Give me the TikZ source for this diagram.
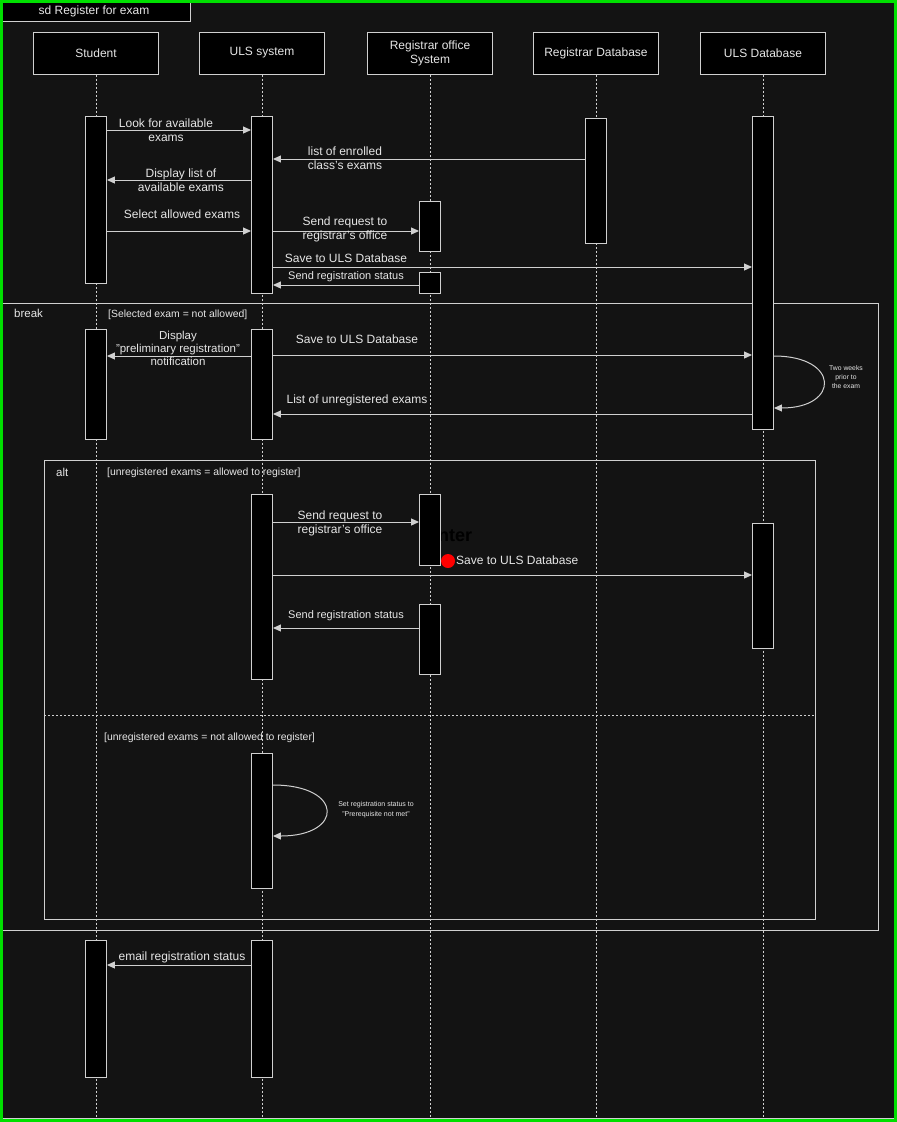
\documentclass[tikz,border=0pt]{standalone}
\usepackage{fontspec}
\setmainfont{Liberation Sans}
\usetikzlibrary{arrows.meta}
\definecolor{bg}{HTML}{131313}
\definecolor{ln}{HTML}{D0D0D0}
\definecolor{tx}{HTML}{E6E6E6}
\definecolor{edge}{HTML}{00E000}
\begin{document}
\begin{tikzpicture}[x=1pt,y=-1pt,
  head/.style={draw=ln, line width=1pt, fill=black, text=tx, minimum width=125, minimum height=42,
    font=\fontsize{12}{14}\selectfont, align=center, inner sep=0},
  life/.style={draw=ln, line width=0.9pt, dash pattern=on 2pt off 2pt},
  act/.style={draw=ln, line width=0.9pt, fill=black, minimum width=21, inner sep=0, anchor=north},
  msg/.style={draw=ln, line width=1pt, -{Triangle[length=8pt,width=7pt]}},
  lbl/.style={text=tx, font=\fontsize{12}{14}\selectfont, align=center, inner sep=0},
  guard/.style={text=tx, font=\fontsize{10.4}{12}\selectfont, inner sep=0, anchor=west},
  tiny/.style={text=tx, font=\fontsize{6.8}{8.8}\selectfont, align=center, inner sep=0},
  frame/.style={draw=ln, line width=1pt}]
\fill[bg] (0,0) rectangle (897,1122);
\useasboundingbox (0,0) rectangle (897,1122);

% outer frame and its title tab
\draw[frame] (2,1118) -- (895,1118);
\draw[frame, fill=black] (-2,-2) rectangle (190,21);
\node[text=tx, font=\fontsize{12}{14}\selectfont, inner sep=0] (title) at (94,11) {sd Register for exam};

% participants
\node[head] (hS) at (96,53) {Student};
\node[head] (hU) at (262,53) {ULS system};
\node[head] (hR) at (430,53) {Registrar office\\System};
\node[head] (hD) at (596,53) {Registrar Database};
\node[head] (hL) at (763,53) {ULS Database};

% lifelines
\foreach \h in {hS,hU,hR,hD,hL}
  \draw[life] (\h.south) -- (\h.south |- 0,1118);

% combined fragments
\draw[frame] (-2,303) rectangle (878,930);
\node[text=tx, font=\fontsize{11.5}{13}\selectfont, inner sep=0, anchor=west] (brk) at (14,313) {break};
\node[guard] (g1) at (108,315) {[Selected exam = not allowed]};
\draw[frame] (44,460) rectangle (815,919);
\node[text=tx, font=\fontsize{11.5}{13}\selectfont, inner sep=0, anchor=west] (alt) at (56,472) {alt};
\node[guard] (g2) at (107,473) {[unregistered exams = allowed to register]};
\draw[ln, line width=1pt, dash pattern=on 2pt off 2pt] (44,715.5) -- (815,715.5);
\node[guard] (g3) at (104,738) {[unregistered exams = not allowed to register]};

% activation bars
\node[act, minimum height=167] (s1) at (96,116) {};
\node[act, minimum height=177] (u1) at (262,116) {};
\node[act, minimum height=125] (d1) at (596,118) {};
\node[act, minimum height=313] (l1) at (763,116) {};
\node[act, minimum height=50]  (r1) at (430,201) {};
\node[act, minimum height=21]  (r2) at (430,272) {};
\node[act, minimum height=110] (s2) at (96,329) {};
\node[act, minimum height=110] (u2) at (262,329) {};
\node[act, minimum height=185] (u3) at (262,494) {};
\node[text=black, font=\bfseries\fontsize{18}{20}\selectfont, inner sep=0, anchor=west] (ent) at (428,536) {enter};
\node[act, minimum height=71]  (r3) at (430,494) {};
\node[act, minimum height=70]  (r4) at (430,604) {};
\node[act, minimum height=125] (l2) at (763,523) {};
\node[act, minimum height=135] (u4) at (262,753) {};
\node[act, minimum height=137] (s3) at (96,940) {};
\node[act, minimum height=137] (u5) at (262,940) {};

% main flow
\draw[msg] (s1.east |- 0,130) -- (u1.west |- 0,130);
\node[lbl] (m1) at (166,130) {Look for available\\exams};
\draw[msg] (d1.west |- 0,159) -- (u1.east |- 0,159);
\node[lbl] (m2) at (345,158) {list of enrolled\\class's exams};
\draw[msg] (u1.west |- 0,180) -- (s1.east |- 0,180);
\node[lbl] (m3) at (181,180) {Display list of\\available exams};
\draw[msg] (s1.east |- 0,231) -- (u1.west |- 0,231);
\node[lbl] (m4) at (182,214) {Select allowed exams};
\draw[msg] (u1.east |- 0,231) -- (r1.west |- 0,231);
\node[lbl] (m5) at (345,229) {Send request to\\registrar's office};
\draw[msg] (u1.east |- 0,267) -- (l1.west |- 0,267);
\node[lbl] (m6) at (346,258) {Save to ULS Database};
\draw[msg] (r2.west |- 0,285) -- (u1.east |- 0,285);
\node[lbl, font=\fontsize{11}{13}\selectfont] (m7) at (346,277) {Send registration status};

% break fragment
\draw[msg] (u2.west |- 0,356) -- (s2.east |- 0,356);
\node[lbl, font=\fontsize{11.5}{13}\selectfont] (m8) at (178,348) {Display\\"preliminary registration"\\notification};
\draw[msg] (u2.east |- 0,355) -- (l1.west |- 0,355);
\node[lbl] (m9) at (357,339) {Save to ULS Database};
\draw[msg] (l1.east |- 0,356) .. controls (840,356) and (840,408) .. (l1.east |- 0,408);
\node[tiny] (m10) at (846,377) {Two weeks\\prior to\\the exam};
\draw[msg] (l1.west |- 0,414) -- (u2.east |- 0,414);
\node[lbl] (m11) at (357,400) {List of unregistered exams};

% alt fragment, first operand
\draw[msg] (u3.east |- 0,522) -- (r3.west |- 0,522);
\node[lbl] (m12) at (340,523) {Send request to\\registrar's office};
\fill[red] (448,561) circle (7);
\node[lbl, anchor=west] (m13) at (456,560) {Save to ULS Database};
\draw[msg] (u3.east |- 0,575) -- (l2.west |- 0,575);
\draw[msg] (r4.west |- 0,628) -- (u3.east |- 0,628);
\node[lbl, font=\fontsize{11}{13}\selectfont] (m14) at (346,616) {Send registration status};

% alt fragment, second operand
\draw[msg] (u4.east |- 0,785) .. controls (344,785) and (344,836) .. (u4.east |- 0,836);
\node[tiny, font=\fontsize{7}{10}\selectfont] (m15) at (376,810) {Set registration status to\\"Prerequisite not met"};

% final notification
\draw[msg] (u5.west |- 0,965) -- (s3.east |- 0,965);
\node[lbl] (m16) at (182,957) {email registration status};

% image edge
\draw[edge, line width=3pt] (1.5,1.5) rectangle (895.5,1120.5);
\end{tikzpicture}
\end{document}
